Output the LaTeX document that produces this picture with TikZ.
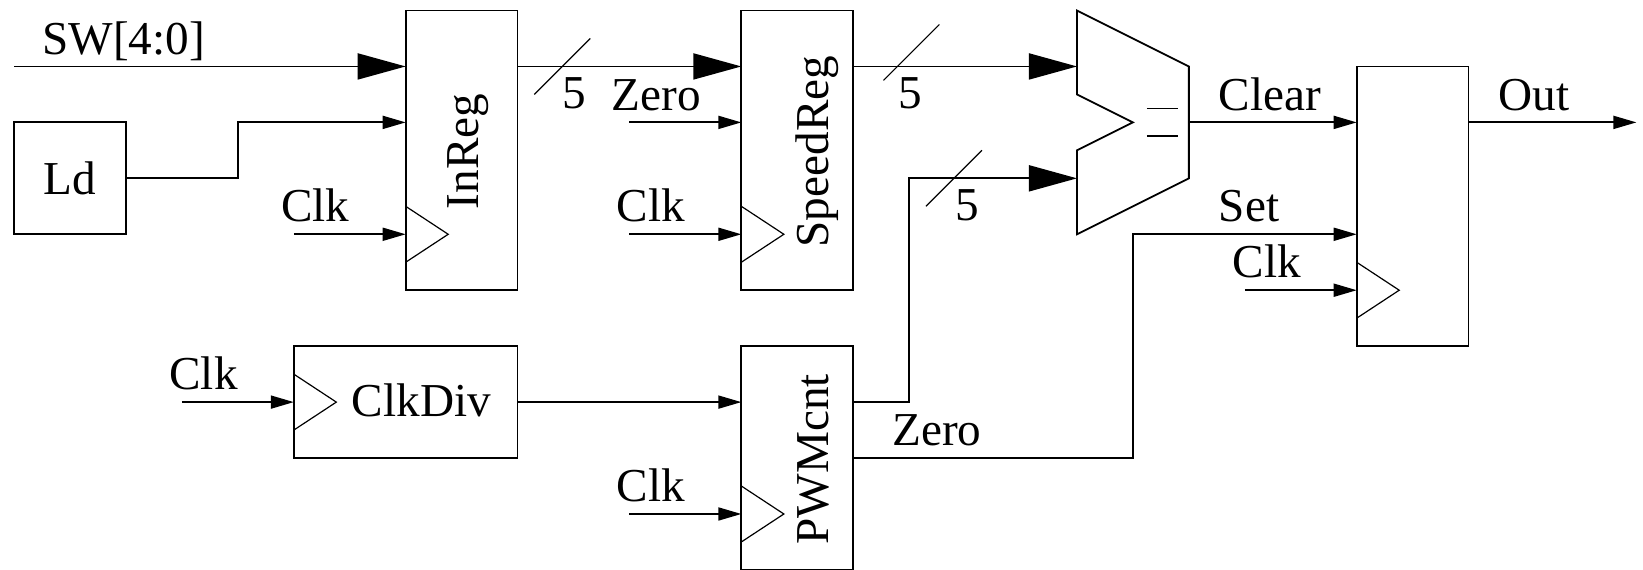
\documentclass[tikz,border=0pt]{standalone}
\usepackage{fontspec}
\setmainfont{Liberation Serif}
\usetikzlibrary{arrows.meta}
\tikzset{
	box/.style={draw,line width=0.9pt,inner sep=0pt,outer sep=0pt},
	txt/.style={inner sep=0pt,anchor=base west},
	sidetxt/.style={inner sep=0pt,anchor=base west,rotate=90},
	wire/.style={line width=0.9pt,-{Triangle[length=11.5pt,width=6.5pt]}},
	bus/.style={line width=0.9pt,-{Triangle[length=24pt,width=13pt]}},
	line/.style={line width=0.9pt},
	slash/.style={line width=0.6pt},
}
\begin{document}
\begin{tikzpicture}[x=27.97pt,y=-27.97pt,font=\fontsize{23.6}{28}\selectfont]
	% One unit is one cell of the drawing grid
	\useasboundingbox (-0.252,-0.188) rectangle (29.118,10);
	
	\node[box,minimum width=55.94pt,minimum height=55.94pt] (Ld) at (1,3) {Ld};
	\node[box,minimum width=55.94pt,minimum height=139.85pt] (InReg) at (8,2.5) {};
	\node[box,minimum width=55.94pt,minimum height=139.85pt] (SpeedReg) at (14,2.5) {};
	\node[box,minimum width=55.94pt,minimum height=139.85pt] (OutReg) at (25,3.5) {};
	\node[box,minimum width=111.88pt,minimum height=55.94pt] (ClkDiv) at (7,7) {};
	\node[box,minimum width=55.94pt,minimum height=111.88pt] (PWMcnt) at (14,8) {};
	
	\node[sidetxt] (InRegTxt) at (8.3,3.56) {InReg};
	\node[sidetxt] (SpeedRegTxt) at (14.55,4.24) {SpeedReg};
	\node[sidetxt] (PWMcntTxt) at (14.55,9.55) {PWMcnt};
	\node[txt] (ClkDivTxt) at (6.03,7.26) {ClkDiv};
	
	% Comparator
	\coordinate (CmpA) at (19,1);
	\coordinate (CmpB) at (19,3);
	\coordinate (CmpOut) at (21,2);
	\draw[line] (19,0) -- (21,1) -- (21,3) -- (19,4) -- (19,2.5) -- (20,2) -- (19,1.5) -- cycle;
	\draw[line] (20.25,1.75) -- (20.8,1.75);
	\draw[line] (20.25,2.25) -- (20.8,2.25);
	
	% Clock inputs
	\foreach \x/\y in {7/4,13/4,24/5,5/7,13/9}
		\draw[slash] (\x,\y-0.5) -- (\x+0.76,\y) -- (\x,\y+0.5);
	
	\coordinate (SWin) at (0,1);
	\coordinate (ClkA) at (5,4);
	\coordinate (ClkB) at (11,4);
	\coordinate (ClkC) at (22,5);
	\coordinate (ClkD) at (3,7);
	\coordinate (ClkE) at (11,9);
	\coordinate (ZeroIn) at (11,2);
	\coordinate (OutEnd) at (29,2);
	
	\draw[bus] (SWin) -- (SWin -| InReg.west);
	\draw[wire] (Ld.east) -- (4,3) -- (4,2) -- (InReg.west |- ZeroIn);
	\draw[wire] (ClkA) -- (ClkA -| InReg.west);
	\draw[bus] (InReg.east |- SWin) -- (SpeedReg.west |- SWin);
	\draw[wire] (ZeroIn) -- (ZeroIn -| SpeedReg.west);
	\draw[wire] (ClkB) -- (ClkB -| SpeedReg.west);
	\draw[bus] (SpeedReg.east |- CmpA) -- (CmpA);
	\draw[bus] (PWMcnt.east |- ClkDiv.east) -- (16,7) -- (16,3) -- (CmpB);
	\draw[wire] (CmpOut) -- (CmpOut -| OutReg.west);
	\draw[wire] (OutReg.east |- CmpOut) -- (OutEnd);
	\draw[wire] (PWMcnt.east) -- (20,8) -- (20,4) -- (OutReg.west |- 0,4);
	\draw[wire] (ClkC) -- (ClkC -| OutReg.west);
	\draw[wire] (ClkD) -- (ClkDiv.west);
	\draw[wire] (ClkDiv.east) -- (ClkDiv.east -| PWMcnt.west);
	\draw[wire] (ClkE) -- (ClkE -| PWMcnt.west);
	
	\draw[slash] (9.3,1.5) -- (10.3,0.5);
	\draw[slash] (15.54,1.25) -- (16.54,0.25);
	\draw[slash] (16.3,3.5) -- (17.3,2.5);
	
	\node[txt] (SWLabel) at (0.5,0.79) {SW[4:0]};
	\node[txt] (ClkALabel) at (4.77,3.77) {Clk};
	\node[txt] (WidthA) at (9.8,1.76) {5};
	\node[txt] (ZeroALabel) at (10.68,1.78) {Zero};
	\node[txt] (ClkBLabel) at (10.77,3.77) {Clk};
	\node[txt] (WidthB) at (15.8,1.76) {5};
	\node[txt] (WidthC) at (16.82,3.75) {5};
	\node[txt] (ClearLabel) at (21.53,1.78) {Clear};
	\node[txt] (OutLabel) at (26.53,1.78) {Out};
	\node[txt] (SetLabel) at (21.53,3.77) {Set};
	\node[txt] (ClkCLabel) at (21.78,4.77) {Clk};
	\node[txt] (ClkDLabel) at (2.77,6.77) {Clk};
	\node[txt] (ZeroBLabel) at (15.69,7.77) {Zero};
	\node[txt] (ClkELabel) at (10.77,8.77) {Clk};
\end{tikzpicture}
\end{document}
